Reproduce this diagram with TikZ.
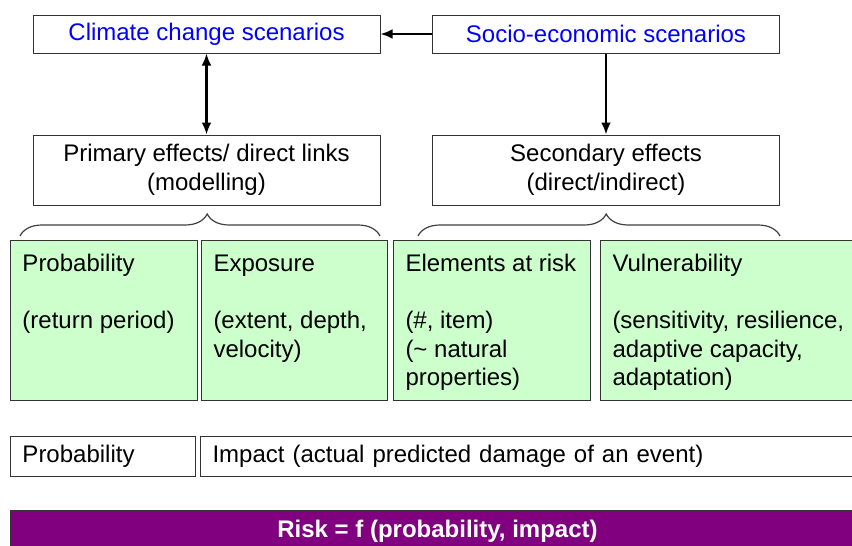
\documentclass[tikz,border=0pt]{standalone}
\usepackage{fontspec}
\setmainfont{Liberation Sans}
\usepackage{xcolor}
\usetikzlibrary{arrows.meta,decorations.pathreplacing}
\definecolor{factorgreen}{HTML}{CCFFCC}
\definecolor{riskpurple}{HTML}{800080}
\tikzset{
    plain-box/.style = {draw=black!80, fill=white, line width=0.5pt, rectangle, inner sep=0pt, font=\fontsize{12}{14.25}\selectfont},
    scenario-box/.style = {plain-box, minimum width=173.5pt, minimum height=19pt, text=blue},
    effect-box/.style = {plain-box, minimum width=173.5pt, minimum height=35pt, align=center},
    factor-box/.style = {plain-box, fill=factorgreen, anchor=north west, inner xsep=6pt, inner ysep=5.75pt},
    result-box/.style = {plain-box, anchor=north west, minimum height=20pt, inner xsep=6pt, align=left},
    link/.style = {line width=1.3pt, -{Latex[length=6pt,width=5pt]}},
    group-brace/.style = {draw=black!75, line width=0.6pt, decorate, decoration={brace, amplitude=11pt, aspect=0.52}},
}

\begin{document}
\begin{tikzpicture}[x=0.5pt, y=-0.5pt]
\useasboundingbox (0,0) rectangle (852,546);
% scenarios
\node [scenario-box] (climate) at (206.5,34) {Climate change scenarios};
\node [scenario-box] (socio) at (606,34) {Socio-economic scenarios};
% effects
\node [effect-box] (primary) at (206.5,170) {Primary effects/ direct links\\(modelling)};
\node [effect-box] (secondary) at (606,170) {Secondary effects\\(direct/indirect)};
\draw [link] (socio) -- (climate);
\draw [link, {Latex[length=6pt,width=5pt]}-{Latex[length=6pt,width=5pt]}] (climate) -- (primary);
\draw [link] (socio) -- (secondary);
% braces
\coordinate (brace-a1) at (20,236);
\coordinate (brace-a2) at (380,236);
\coordinate (brace-b1) at (418,236);
\coordinate (brace-b2) at (780,236);
\draw [group-brace] (brace-a1) -- (brace-a2);
\draw [group-brace] (brace-b1) -- (brace-b2);
% risk factors
\node [factor-box] (probability) at (10,240) {\begin{minipage}[t][68.5pt][t]{81.5pt}
    \strut Probability\\[\baselineskip]
    (return period)
\end{minipage}};
\node [factor-box] (exposure) at (201,240) {\begin{minipage}[t][68.5pt][t]{81pt}
    \strut Exposure\\[\baselineskip]
    (extent, depth,\\velocity)
\end{minipage}};
\node [factor-box] (elements) at (393,240) {\begin{minipage}[t][68.5pt][t]{86.5pt}
    \strut Elements at risk\\[\baselineskip]
    (\#, item)\\(\textasciitilde\ natural\\properties)
\end{minipage}};
\node [factor-box] (vulnerability) at (600,240) {\begin{minipage}[t][68.5pt][t]{123pt}
    \strut Vulnerability\\[\baselineskip]
    (sensitivity, resilience,\\adaptive capacity,\\adaptation)
\end{minipage}};
% probability and impact
\node [result-box, text width=80.5pt] (prob-result) at (10,436) {Probability};
\node [result-box, text width=323pt] (impact) at (200,436) {Impact (actual predicted damage of an event)};
% risk
\node [plain-box, anchor=north west, fill=riskpurple, text=white, minimum width=427pt, minimum height=21pt] (risk) at (10,510) {\bfseries Risk = f (probability, impact)};
\end{tikzpicture}
\end{document}
